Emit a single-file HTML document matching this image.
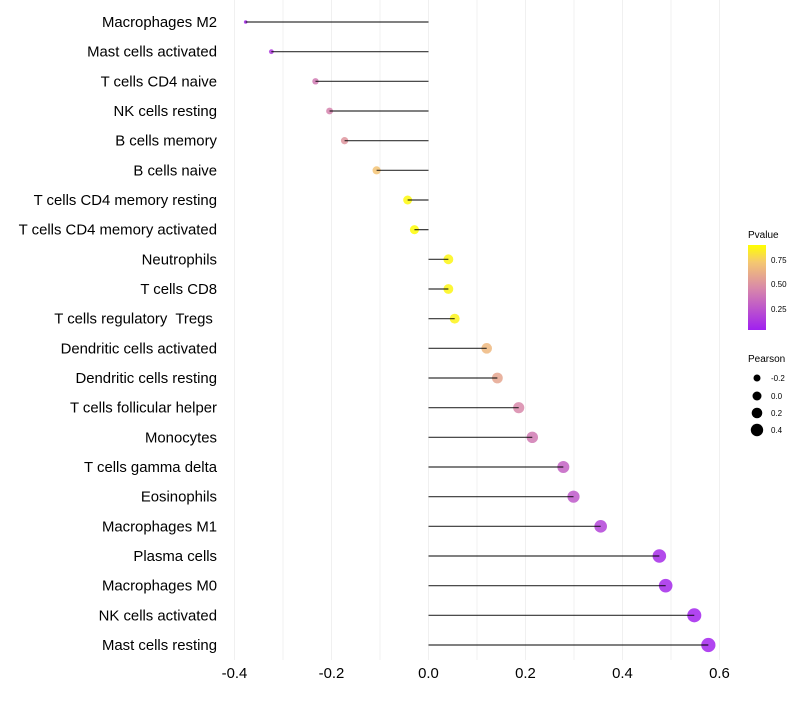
<!DOCTYPE html>
<html><head><meta charset="utf-8"><style>
body{margin:0;background:#fff;font-family:"Liberation Sans",sans-serif;}
text{white-space:pre;}
</style></head><body>
<svg id="chart" width="800" height="700" xmlns="http://www.w3.org/2000/svg" font-family="Liberation Sans, sans-serif">
<defs>
<linearGradient id="pgrad" x1="0" y1="1" x2="0" y2="0">
<stop offset="0" stop-color="#a020f0"/>
<stop offset="0.5" stop-color="#d98aa8"/>
<stop offset="0.8" stop-color="#f5c870"/>
<stop offset="1" stop-color="#ffff00"/>
</linearGradient>
</defs>
<g id="grid"></g>
<g id="marks"></g>
<g id="ylabels"></g>
<g id="xlabels"></g>
<g>
<text x="748" y="238" font-size="10" fill="#000">Pvalue</text>
<rect x="748" y="245" width="18" height="85" fill="url(#pgrad)"/>
<text x="771" y="263" font-size="8">0.75</text>
<text x="771" y="287" font-size="8">0.50</text>
<text x="771" y="312" font-size="8">0.25</text>
</g>
<g>
<text x="748" y="362" font-size="10">Pearson</text>
<circle cx="757" cy="378" r="3.5"/>
<text x="771" y="381" font-size="8">-0.2</text>
<circle cx="757" cy="396" r="4.5"/>
<text x="771" y="399" font-size="8">0.0</text>
<circle cx="757" cy="413" r="5.3"/>
<text x="771" y="416" font-size="8">0.2</text>
<circle cx="757" cy="430" r="6.2"/>
<text x="771" y="433" font-size="8">0.4</text>
</g>
</svg>
<script>
const categories=["Macrophages M2","Mast cells activated","T cells CD4 naive","NK cells resting","B cells memory","B cells naive","T cells CD4 memory resting","T cells CD4 memory activated","Neutrophils","T cells CD8","T cells regulatory  Tregs ","Dendritic cells activated","Dendritic cells resting","T cells follicular helper","Monocytes","T cells gamma delta","Eosinophils","Macrophages M1","Plasma cells","Macrophages M0","NK cells activated","Mast cells resting"];
const pearson=[-0.377,-0.324,-0.233,-0.204,-0.173,-0.107,-0.043,-0.029,0.041,0.041,0.054,0.12,0.142,0.186,0.214,0.278,0.299,0.355,0.476,0.489,0.548,0.577];
const pvalues=[0.03,0.12,0.38,0.42,0.5,0.7,0.88,0.89,0.87,0.87,0.86,0.65,0.57,0.44,0.38,0.28,0.24,0.15,0.05,0.04,0.02,0.02];
const xTicks=[-0.4,-0.2,0.0,0.2,0.4,0.6];
const xTickLabels=["-0.4","-0.2","0.0","0.2","0.4","0.6"];
const xGrid=[-0.4,-0.3,-0.2,-0.1,0,0.1,0.2,0.3,0.4,0.5,0.6];

const NS="http://www.w3.org/2000/svg";
const x=v=>428.5+v*485;
const y=i=>22+i*(623/21);
const r=v=>Math.sqrt(Math.max(2.5,22+50*v));
function lerp(a,b,t){return a.map((c,k)=>Math.round(c+(b[k]-c)*t));}
const stops=[[0,[160,32,240]],[0.45,[217,138,168]],[0.72,[245,200,112]],[0.9,[255,255,0]]];
function color(p){
  if(p<=stops[0][0])return 'rgb('+stops[0][1]+')';
  for(let k=1;k<stops.length;k++){if(p<=stops[k][0]){const t=(p-stops[k-1][0])/(stops[k][0]-stops[k-1][0]);return 'rgb('+lerp(stops[k-1][1],stops[k][1],t)+')';}}
  return 'rgb(255,255,0)';
}
function mk(tag,attrs,parent){const e=document.createElementNS(NS,tag);for(const k in attrs)e.setAttribute(k,attrs[k]);parent.appendChild(e);return e;}
const grid=document.getElementById('grid'),marks=document.getElementById('marks'),yl=document.getElementById('ylabels'),xl=document.getElementById('xlabels');
xGrid.forEach(v=>{const l=mk('line',{x1:x(v),x2:x(v),y1:0,y2:660,stroke:'#f0f0f0','stroke-width':1},grid);

});
categories.forEach((c,i)=>{
  const cy=y(i);
  const dot=mk('circle',{cx:x(pearson[i]),cy:cy,r:r(pearson[i]),fill:color(pvalues[i]),'fill-opacity':0.85},marks);
  
  
  const seg=mk('line',{x1:x(0),x2:x(pearson[i]),y1:cy,y2:cy,stroke:'#000','stroke-width':1.2,'stroke-opacity':0.8},marks);
  
  
  const t=mk('text',{x:217,y:cy+5,'text-anchor':'end','font-size':14.9,fill:'#000'},yl);
  t.textContent=c;
  
  
});
xTicks.forEach((v,k)=>{const t=mk('text',{x:x(v),y:678,'text-anchor':'middle','font-size':14.9,fill:'#000'},xl);
t.textContent=xTickLabels[k];

});
</script>
</body></html>
